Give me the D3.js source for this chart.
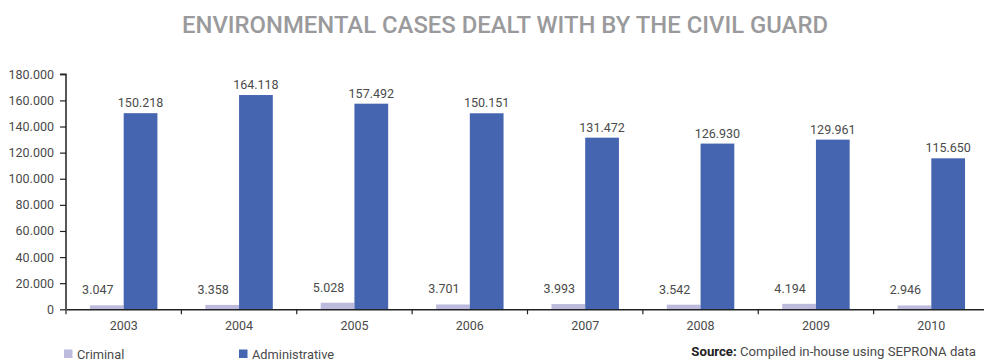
<!DOCTYPE html>
<html><head><meta charset="utf-8">
<script src="https://cdn.jsdelivr.net/npm/d3@7"></script>
<style>
body{margin:0;background:#fff;}
svg text{font-family:Roboto,"Noto Sans",sans-serif;}
</style></head>
<body><svg id="c" width="984" height="360"></svg>
<script>
const years = ["2003","2004","2005","2006","2007","2008","2009","2010"];
const criminal = [3047,3358,5028,3701,3993,3542,4194,2946];
const administrative = [150218,164118,157492,150151,131472,126930,129961,115650];
const yTicks = [0,20000,40000,60000,80000,100000,120000,140000,160000,180000];
const seriesNames = ["Criminal","Administrative"];
const colors = ["#bdbbdd","#4565b0"];
const titleText = "ENVIRONMENTAL CASES DEALT WITH BY THE CIVIL GUARD";

const svg = d3.select("#c");
const fmt = v => d3.format(",")(v).replace(/,/g,".");
const x = d3.scaleBand().domain(years).range([66,989]);
const y = d3.scaleLinear().domain([0,180000]).range([309.3,74.3]);
const xs = d3.scaleBand().domain(seriesNames).range([0,x.bandwidth()]).paddingOuter(0.71).paddingInner(0);

svg.append("text").attr("x",505).attr("y",33).attr("text-anchor","middle")
  .attr("fill","#9a9a9c").attr("font-size",24).attr("font-weight",500)
  .attr("textLength",646).attr("lengthAdjust","spacingAndGlyphs").text(titleText);

const g = svg.append("g");
years.forEach((yr,i)=>{
  const vals=[criminal[i],administrative[i]];
  vals.forEach((v,j)=>{
    const bx = x(yr)+xs(seriesNames[j]);
    g.append("rect").attr("x",bx).attr("y",y(v)).attr("width",xs.bandwidth())
      .attr("height",y(0)-y(v)).attr("fill",colors[j]);
    g.append("text").attr("x",bx+xs.bandwidth()/2-(j===0?9:0)).attr("y",y(v)-(j===0?11:6))
      .attr("text-anchor","middle").attr("font-size",12.5).attr("fill","#4a4a4a").text(fmt(v));
  });
});

const ya = svg.append("g").attr("transform","translate(66,0)")
  .call(d3.axisLeft(y).tickValues(yTicks).tickSize(6).tickPadding(6).tickFormat(fmt));
ya.select(".domain").attr("stroke","#222").attr("stroke-width",1.5).attr("d","M-6,74.3H0V309.3");
ya.selectAll(".tick line").attr("stroke","#222").attr("stroke-width",1.2);
ya.selectAll("text").attr("font-size",12.5).attr("fill","#4a4a4a").attr("font-family","Roboto");

const xa = svg.append("g").attr("transform","translate(0,309.3)")
  .call(d3.axisBottom(x).tickSize(0).tickPadding(12));
xa.select(".domain").attr("stroke","#222").attr("stroke-width",1.5);
xa.selectAll("text").attr("font-size",12.5).attr("fill","#4a4a4a").attr("font-family","Roboto");
xa.selectAll(".sep").data(years).enter().append("line")
  .attr("x1",d=>x(d)).attr("x2",d=>x(d)).attr("y1",0).attr("y2",5)
  .attr("stroke","#222").attr("stroke-width",1.2);

const leg = [[64,77],[239,252]];
seriesNames.forEach((s,j)=>{
  svg.append("rect").attr("x",leg[j][0]).attr("y",349.5).attr("width",8.5).attr("height",8.5).attr("fill",colors[j]);
  svg.append("text").attr("x",leg[j][1]).attr("y",358.5).attr("font-size",12.8).attr("fill","#4a4a4a").text(s);
});

const src = svg.append("text").attr("x",976).attr("y",355.5).attr("text-anchor","end")
  .attr("font-size",13.2).attr("fill","#333");
src.append("tspan").attr("font-weight","bold").attr("fill","#222").text("Source:");
src.append("tspan").attr("fill","#4a4a4a").text(" Compiled in-house using SEPRONA data");
</script></body></html>
